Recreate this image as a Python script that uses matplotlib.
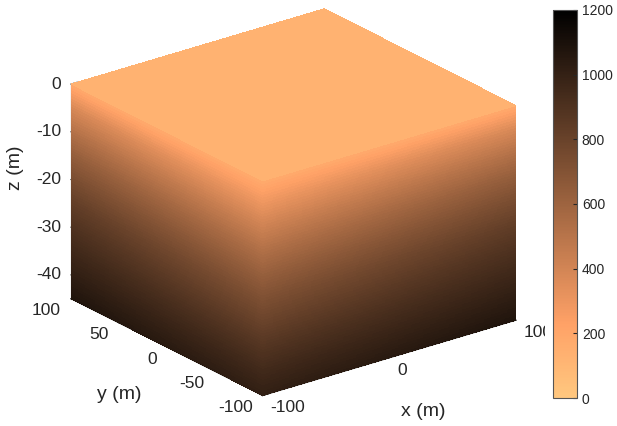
import numpy as np
import matplotlib
import matplotlib.pyplot as plt
from matplotlib import cm
from matplotlib.colors import Normalize
from matplotlib.transforms import Bbox, IdentityTransform
from mpl_toolkits.mplot3d import proj3d

plt.rcParams['font.family'] = ['Liberation Sans', 'DejaVu Sans']
plt.rcParams['axes.unicode_minus'] = False

# model extent (m)
x_lim = [-100, 100]
y_lim = [-100, 100]
z_lim = [-45, 0]

x_ticks = [-100, 0, 100]
y_ticks = [-100, -50, 0, 50, 100]
z_ticks = [-40, -30, -20, -10, 0]

# value profile with depth, read at the front edge and at the far edges
z_levels = [0, -5, -10, -15, -20, -25, -30, -35, -40, -45]
v_front = [170, 300, 420, 530, 630, 720, 800, 880, 950, 1010]
v_edge = [170, 380, 520, 640, 740, 830, 900, 960, 1020, 1080]
top_value = 130

cbar_ticks = [0, 200, 400, 600, 800, 1000, 1200]
v_min, v_max = 0, 1200

cmap = matplotlib.colormaps['copper_r']
norm = Normalize(v_min, v_max)
txt = '#262626'

fig = plt.figure(figsize=(6.17, 4.26), dpi=100)
ax = fig.add_axes([0.0263, 0.012, 0.88, 1.0], projection='3d')
ax.set_proj_type('ortho')
ax.view_init(elev=22.8, azim=-127.5)

n = 80
zz = np.linspace(z_lim[0], z_lim[1], n)
ss = np.linspace(0, 1, n)
S, Z = np.meshgrid(ss, zz)
depth = [-z for z in z_levels]
zf = np.interp(-Z, depth, v_front)
ze = np.interp(-Z, depth, v_edge)
V_side = zf + (ze - zf) * S
side_colors = cmap(norm(V_side))

surfs = []
# face x = -100 (distance from front edge runs along +y)
Y1 = y_lim[0] + S * (y_lim[1] - y_lim[0])
X1 = np.full_like(Y1, x_lim[0])
surfs.append(ax.plot_surface(X1, Y1, Z, facecolors=side_colors, shade=False,
                             linewidth=0, antialiased=False, rcount=n, ccount=n))

# face y = -100 (distance from front edge runs along +x)
X2 = x_lim[0] + S * (x_lim[1] - x_lim[0])
Y2 = np.full_like(X2, y_lim[0])
surfs.append(ax.plot_surface(X2, Y2, Z, facecolors=side_colors, shade=False,
                             linewidth=0, antialiased=False, rcount=n, ccount=n))

# top face z = 0
Xt, Yt = np.meshgrid(np.linspace(*x_lim, 2), np.linspace(*y_lim, 2))
Zt = np.zeros_like(Xt)
surfs.append(ax.plot_surface(Xt, Yt, Zt, color=cmap(norm(top_value)), shade=False,
                             linewidth=0, antialiased=False))
for s in surfs:
    s.set_clip_on(False)

ax.set_xlim(x_lim)
ax.set_ylim(y_lim)
ax.set_zlim(z_lim)
ax.set_box_aspect((1.014, 1, 0.74), zoom=1.151)

ax.set_xticks(x_ticks)
ax.set_yticks(y_ticks)
ax.set_zticks(z_ticks)
ax.grid(False)
for axis in (ax.xaxis, ax.yaxis, ax.zaxis):
    axis.pane.fill = False
    axis.pane.set_edgecolor('none')
    axis.line.set_color(txt)
    axis.line.set_linewidth(0.8)
    axis._axinfo['tick']['inward_factor'] = 0.0
    axis._axinfo['tick']['outward_factor'] = 0.3
    axis._axinfo['tick']['color'] = txt
    axis.set_major_formatter(matplotlib.ticker.NullFormatter())
    for tk in axis.get_major_ticks():
        tk.label1.set_visible(False)
        tk.label2.set_visible(False)

# project once so tick and axis labels can sit next to the drawn edges
fig.canvas.draw()


def screen(x, y, z):
    xs, ys, _ = proj3d.proj_transform(x, y, z, ax.M)
    return ax.transData.transform((xs, ys))


def label(x, y, z, s, dx, dy, **kw):
    px, py = screen(x, y, z)
    return fig.text(px + dx, py + dy, s, color=txt, transform=IdentityTransform(), **kw)


clip = Bbox.from_extents(0, 0, 545, 426)
for xt in x_ticks:
    t = label(xt, y_lim[0], z_lim[0], str(xt), 8, -5, fontsize=12.5, ha='left', va='top')
    t.set_clip_box(clip)
    t.set_clip_on(True)
for yt in y_ticks:
    label(x_lim[0], yt, z_lim[0], str(yt), -10, -12, fontsize=12.5, ha='right', va='center')
for zt in z_ticks:
    label(x_lim[0], y_lim[1], zt, str(zt), -10, 0, fontsize=12.5, ha='right', va='center')

label(0, y_lim[0], z_lim[0], 'x (m)', 34, -54, fontsize=14, ha='center', va='center')
label(x_lim[0], 0, z_lim[0], 'y (m)', -48, -47, fontsize=14, ha='center', va='center')
label(x_lim[0], y_lim[1], -20, 'z (m)', -56, 12, fontsize=14, ha='center', va='center',
      rotation=90)

cax = fig.add_axes([553 / 617, 28 / 426, 24 / 617, 388 / 426])
sm = cm.ScalarMappable(norm=norm, cmap=cmap)
cbar = fig.colorbar(sm, cax=cax, ticks=cbar_ticks)
cbar.ax.tick_params(labelsize=10, colors=txt, direction='in', length=3)
cbar.outline.set_edgecolor('#555555')
cbar.outline.set_linewidth(0.8)

fig.savefig('out.png', dpi=100)
